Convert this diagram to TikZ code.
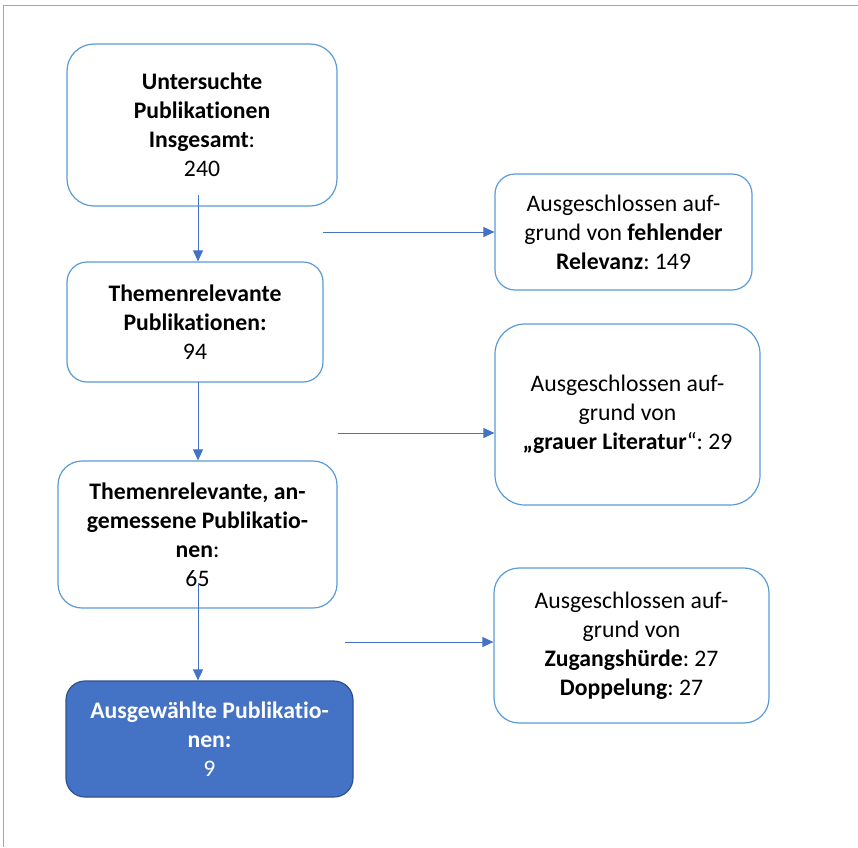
\documentclass[tikz,border=0pt]{standalone}
\usepackage{fontspec}
\setmainfont{Carlito}[Ligatures={NoCommon}]
\frenchspacing
\usetikzlibrary{arrows.meta}
\definecolor{boxblue}{HTML}{5B9BD5}
\definecolor{arrblue}{HTML}{4472C4}
\definecolor{darkblue}{HTML}{2F528F}
\definecolor{framegray}{HTML}{A6A6A6}
\begin{document}
\begin{tikzpicture}[x=1pt,y=-1pt,
  every node/.style={font=\fontsize{23.7}{29}\selectfont, align=center, inner sep=0pt},
  flowbox/.style={draw=boxblue, line width=1.2pt, fill=white},
  resultbox/.style={draw=darkblue, line width=1.2pt, fill=arrblue, text=white},
  flowarrow/.style={draw=arrblue, line width=0.9pt, -{Triangle[length=11pt,width=10pt]}}]
\useasboundingbox (0,0) rectangle (858,847);
\draw[framegray, line width=1pt] (3,847) -- (3,5) -- (858,5);

\node[flowbox, rounded corners=27pt, minimum width=270pt, minimum height=162pt] (b1) at (202,125)
  {\textbf{Untersuchte}\\ \textbf{Publikationen}\\ \textbf{Insgesamt}:\\ 240};
\node[flowbox, rounded corners=20pt, minimum width=256pt, minimum height=120pt] (b2) at (195,322)
  {\textbf{Themenrelevante}\\ \textbf{Publikationen:}\\ 94};
\node[flowbox, rounded corners=24pt, minimum width=279pt, minimum height=147pt] (b3) at (197.5,534.5)
  {\textbf{Themenrelevante, an-}\\ \textbf{gemessene Publikatio-}\\ \textbf{nen}:\\ 65};
\node[resultbox, rounded corners=19pt, minimum width=287pt, minimum height=116pt] (b4) at (209.5,739)
  {\textbf{Ausgewählte Publikatio-}\\ \textbf{nen:}\\ 9};

\node[flowbox, rounded corners=20pt, minimum width=257pt, minimum height=116pt] (r1) at (623.5,232)
  {Ausgeschlossen auf-\\ grund von \textbf{fehlender}\\ \textbf{Relevanz}: 149};
\node[flowbox, rounded corners=30pt, minimum width=265pt, minimum height=181pt] (r2) at (627.5,414.5)
  {Ausgeschlossen auf-\\ grund von\\ \textbf{„grauer Literatur}“: 29};
\node[flowbox, rounded corners=25pt, minimum width=275pt, minimum height=155pt] (r3) at (631.5,645.5)
  {Ausgeschlossen auf-\\ grund von\\ \textbf{Zugangshürde}: 27\\ \textbf{Doppelung}: 27};

\coordinate (s1) at (198,195);
\coordinate (s2) at (198,382);
\coordinate (s3) at (198,583);
\coordinate (h1) at (323,232);
\coordinate (h2) at (338,433);
\coordinate (h3) at (345,642);
\draw[flowarrow] (s1) -- (s1 |- b2.north);
\draw[flowarrow] (s2) -- (s2 |- b3.north);
\draw[flowarrow] (s3) -- (s3 |- b4.north);
\draw[flowarrow] (h1) -- (h1 -| r1.west);
\draw[flowarrow] (h2) -- (h2 -| r2.west);
\draw[flowarrow] (h3) -- (h3 -| r3.west);
\end{tikzpicture}
\end{document}
